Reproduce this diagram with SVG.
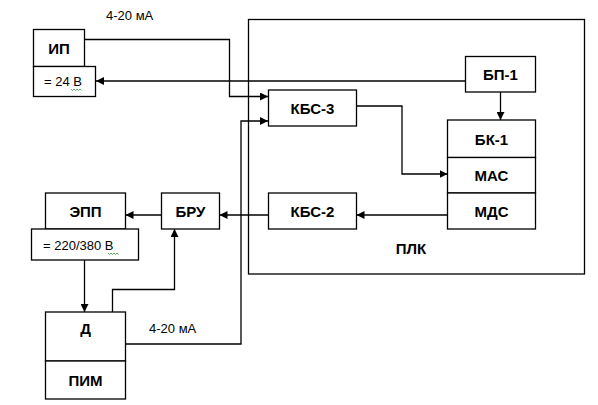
<svg xmlns="http://www.w3.org/2000/svg" width="598" height="405" viewBox="0 0 598 405">
<style>
.b{fill:#fff;stroke:#000;stroke-width:1.3}
.c{fill:none;stroke:#000;stroke-width:1.3}
.t{font-family:"Liberation Sans",Arial,sans-serif;font-weight:bold;font-size:15px;text-anchor:middle;fill:#000}
.s{font-family:"Liberation Sans",Arial,sans-serif;font-size:13px;fill:#000}
.w{fill:none;stroke:#3a9a3a;stroke-width:0.8}
</style>
<defs>
<marker id="a" viewBox="0 0 10 10" refX="10" refY="5" markerWidth="8" markerHeight="8" markerUnits="userSpaceOnUse" orient="auto">
<path d="M0,0 L10,5 L0,10 z" fill="#000"/>
</marker>
</defs>
<rect id="plc-frame" class="b" x="248.5" y="19.5" width="336" height="254.5"/>
<g id="connectors">
<path class="c" d="M84.5,39.5 H229.5 V96.5 H268" marker-end="url(#a)"/>
<path class="c" d="M465.5,81 H96" marker-end="url(#a)"/>
<path class="c" d="M125.5,344 H241 V121 H268" marker-end="url(#a)"/>
<path class="c" d="M500.5,92 V120" marker-end="url(#a)"/>
<path class="c" d="M356.5,106 H402 V174 H447.5" marker-end="url(#a)"/>
<path class="c" d="M447.5,215 H356.5" marker-end="url(#a)"/>
<path class="c" d="M268.5,215 H219.5" marker-end="url(#a)"/>
<path class="c" d="M161.5,215 H125.5" marker-end="url(#a)"/>
<path class="c" d="M84.5,260 V312" marker-end="url(#a)"/>
<path class="c" d="M112.5,312 V289.5 H174.5 V229" marker-end="url(#a)"/>
</g>
<text class="s" x="106" y="20">4-20 мА</text>
<text class="s" x="149" y="333">4-20 мА</text>
<g id="ip">
<rect class="b" x="33.5" y="29.5" width="51" height="37"/>
<text class="t" x="59" y="54">ИП</text>
</g>
<g id="ip-power">
<rect class="b" x="33.5" y="66.5" width="62" height="30"/>
<text class="s" x="44" y="86">= 24 В</text>
<path class="w" d="M71,89 l1.5,1.5 1.5,-1.5 1.5,1.5 1.5,-1.5 1.5,1.5 1.5,-1.5 1.5,1.5"/>
</g>
<g id="bp1">
<rect class="b" x="465.5" y="56.5" width="70" height="35.5"/>
<text class="t" x="500.5" y="80">БП-1</text>
</g>
<g id="kbs3">
<rect class="b" x="268.5" y="90" width="88" height="36"/>
<text class="t" x="312.5" y="114">КБС-3</text>
</g>
<g id="bk1">
<rect class="b" x="447.5" y="120" width="88" height="37.5"/>
<text class="t" x="491.5" y="145">БК-1</text>
</g>
<g id="mas">
<rect class="b" x="447.5" y="157.5" width="88" height="35.5"/>
<text class="t" x="491.5" y="181">МАС</text>
</g>
<g id="mds">
<rect class="b" x="447.5" y="193" width="88" height="36"/>
<text class="t" x="491.5" y="217">МДС</text>
</g>
<g id="kbs2">
<rect class="b" x="268.5" y="193" width="88" height="36"/>
<text class="t" x="312.5" y="217">КБС-2</text>
</g>
<g id="bru">
<rect class="b" x="161.5" y="193" width="58" height="36"/>
<text class="t" x="190.5" y="217">БРУ</text>
</g>
<g id="epp">
<rect class="b" x="45.5" y="193" width="80" height="36"/>
<text class="t" x="85.5" y="217">ЭПП</text>
</g>
<g id="epp-power">
<rect class="b" x="31.5" y="229" width="107" height="31"/>
<text class="s" x="43" y="250">= 220/380 В</text>
<path class="w" d="M108,253 l1.5,1.5 1.5,-1.5 1.5,1.5 1.5,-1.5 1.5,1.5 1.5,-1.5 1.5,1.5"/>
</g>
<g id="d">
<rect class="b" x="45.5" y="312" width="80" height="49"/>
<text class="t" x="85.5" y="334">Д</text>
</g>
<g id="pim">
<rect class="b" x="45.5" y="361" width="80" height="38"/>
<text class="t" x="85.5" y="386">ПИМ</text>
</g>
<text id="plc" class="t" x="411" y="254">ПЛК</text>
</svg>
